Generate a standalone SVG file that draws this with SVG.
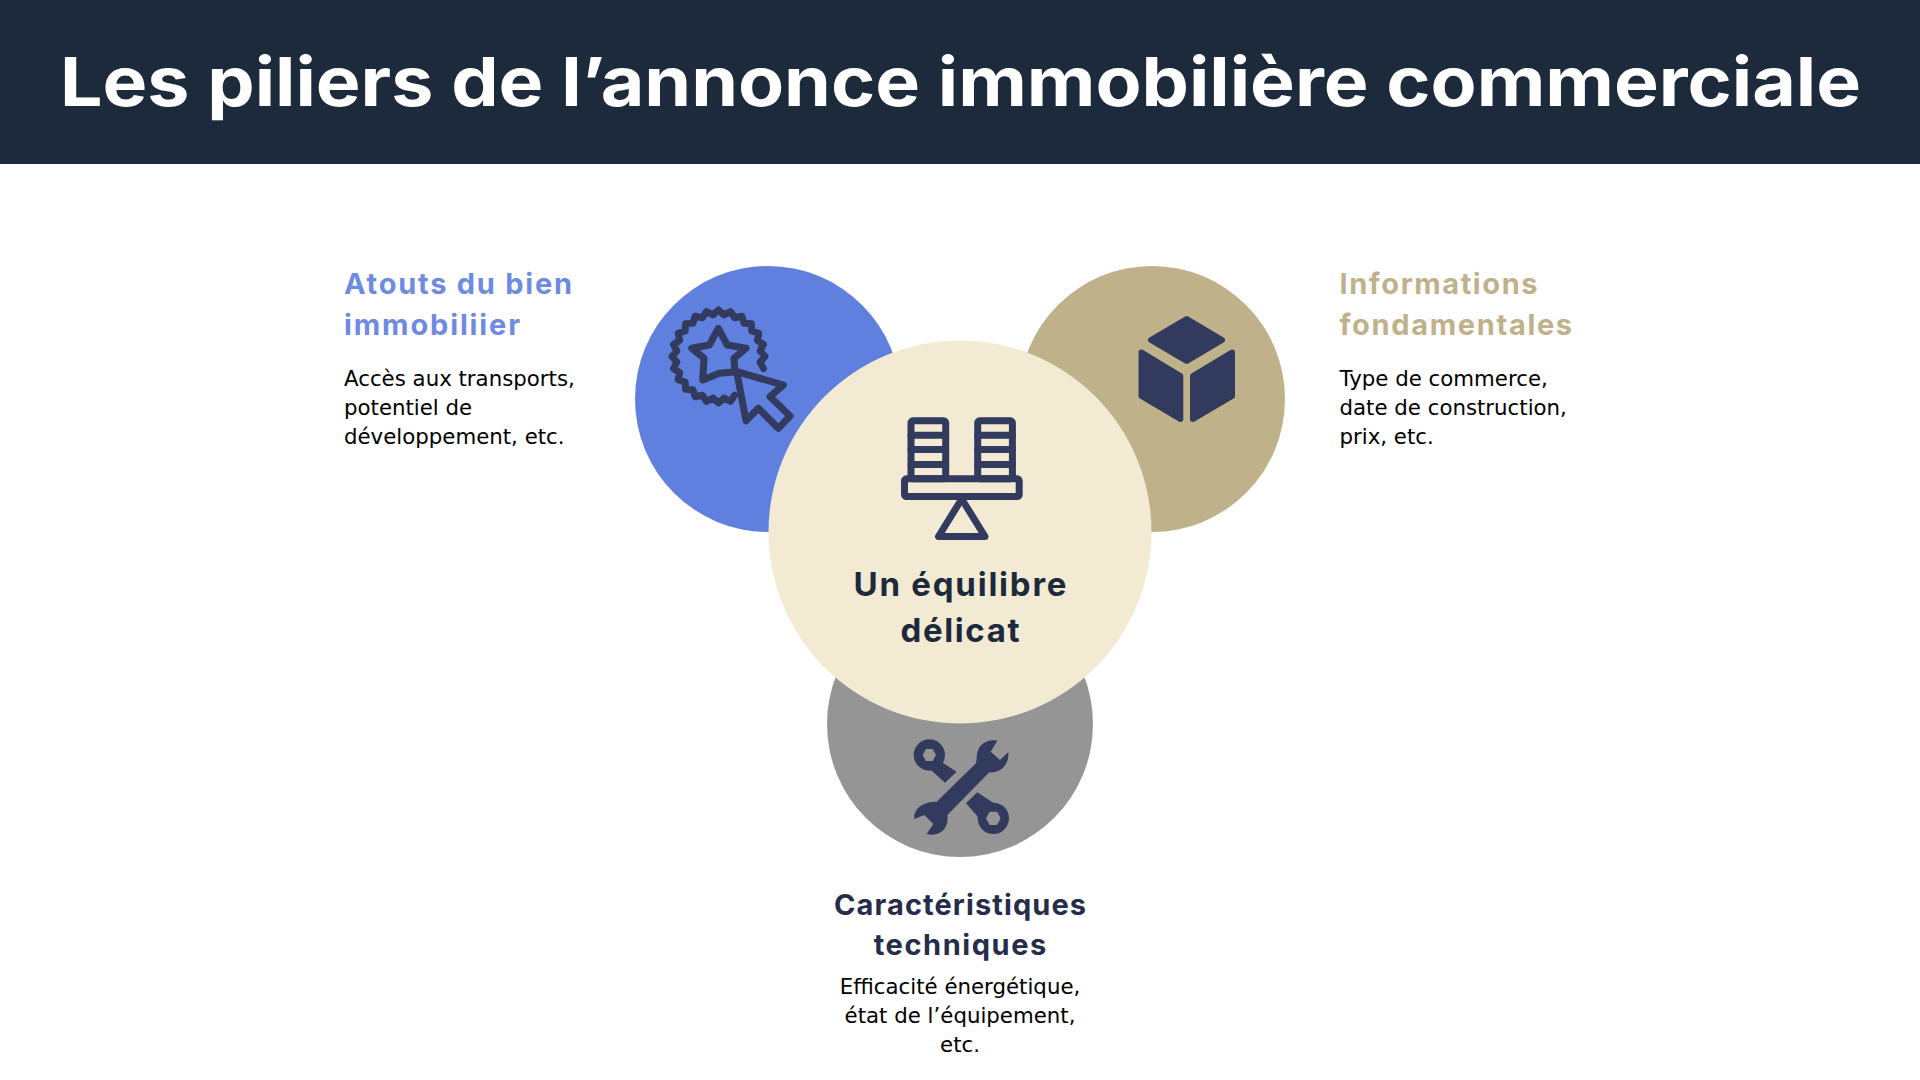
<svg xmlns="http://www.w3.org/2000/svg" width="1920" height="1080" viewBox="0 0 1920 1080">
<style>
.h{font-family:Inter,"Liberation Sans",sans-serif;font-weight:700;font-size:29px;lengthAdjust:spacingAndGlyphs}
.b{font-family:"DejaVu Sans",sans-serif;font-size:21.3px;fill:#000}
.m{text-anchor:middle}
.ic{fill:none;stroke:#323A5E;stroke-width:7;stroke-linejoin:round;stroke-linecap:round}
.f{fill:#323A5E;stroke:#323A5E;stroke-width:6;stroke-linejoin:round}
</style>
<rect id="header" x="0" y="0" width="1920" height="164" fill="#1D2A3C"/>
<text id="title" x="60" y="106" textLength="1801" lengthAdjust="spacingAndGlyphs" font-family="Inter,'Liberation Sans',sans-serif" font-weight="700" font-size="68" fill="#fff">Les piliers de l’annonce immobilière commerciale</text>
<g id="node-atouts">
<circle cx="768" cy="399" r="133" fill="#6080DF"/>
<path class="ic" transform="translate(718.5,356.5)" stroke-width="6" d="M16.07,38.8L12.04,44.92 5.48,41.64 0,46.5 -5.48,41.64 -12.04,44.92 -16.07,38.8 -23.25,40.27 -25.57,33.32 -32.88,32.88 -33.32,25.57 -40.27,23.25 -38.8,16.07 -44.92,12.04 -41.64,5.48 -46.5,0 -41.64,-5.48 -44.92,-12.04 -38.8,-16.07 -40.27,-23.25 -33.32,-25.57 -32.88,-32.88 -25.57,-33.32 -23.25,-40.27 -16.07,-38.8 -12.04,-44.92 -5.48,-41.64 0,-46.5 5.48,-41.64 12.04,-44.92 16.07,-38.8 23.25,-40.27 25.57,-33.32 32.88,-32.88 33.32,-25.57 40.27,-23.25 38.8,-16.07 44.92,-12.04 41.64,-5.48 46.5,0 41.64,5.48 44.92,12.04"/>
<path class="ic" d="M736.7,371.7L719.3,373.3 702.7,380 704,358.3 691.7,348.3 709.3,345 718.3,328.3 727.3,345 746,348.3 734,358.3 735,372"/>
<path class="ic" d="M736.7,371.7L783.3,385 770,396.7 790,416 778.3,428.3 758.3,408.3 746,420.7Z"/>
<text class="h" x="344" y="294" textLength="228" fill="#6F8AE3">Atouts du bien</text>
<text class="h" x="344" y="335" textLength="176" fill="#6F8AE3">immobiliier</text>
<text class="b" x="344" y="385.5">Accès aux transports,</text>
<text class="b" x="344" y="414.5">potentiel de</text>
<text class="b" x="344" y="444">développement, etc.</text>
</g>
<g id="node-infos">
<circle cx="1152" cy="399" r="133" fill="#BFB28A"/>
<path class="f" d="M1186.7,319L1222,340 1186.7,361 1151,340Z"/>
<path class="f" d="M1141.5,352.5L1180.3,376 1180.3,419 1141.5,396Z"/>
<path class="f" d="M1232,352.5L1193,376 1193,419 1232,396Z"/>
<text class="h" x="1339.5" y="294" textLength="198" fill="#BFB28A">Informations</text>
<text class="h" x="1339.5" y="335" textLength="232.6" fill="#BFB28A">fondamentales</text>
<text class="b" x="1339.5" y="385.5">Type de commerce,</text>
<text class="b" x="1339.5" y="414.5">date de construction,</text>
<text class="b" x="1339.5" y="444">prix, etc.</text>
</g>
<g id="node-techniques">
<circle cx="960" cy="724" r="133" fill="#959595"/>
<g transform="translate(890,720) scale(.3333)" fill="#323A5E">
<circle cx="118" cy="105" r="47"/>
<path d="M145,120L200,155 165,188 100,130Z"/>
<path d="M138,105L128,87 108,87 98,105 108,123 128,123Z" fill="#959595"/>
<circle cx="310" cy="295" r="47"/>
<path d="M262,217L228,250 290,320 335,265Z"/>
<path d="M332,295L321,275 299,275 288,295 299,315 321,315Z" fill="#959595"/>
<path d="M322,62C290,55 258,75 260,118L258,130 140,245C100,245 70,265 73,297L103,285 130,312 110,342C150,352 178,325 172,285L298,157C335,160 358,130 355,97L330,120 302,95Z"/>
</g>
<text class="h m" x="960" y="915" textLength="252" fill="#262D4A">Caractéristiques</text>
<text class="h m" x="960" y="955" textLength="172.6" fill="#262D4A">techniques</text>
<text class="b m" x="960" y="994">Efficacité énergétique,</text>
<text class="b m" x="960" y="1023">état de l’équipement,</text>
<text class="b m" x="960" y="1052">etc.</text>
</g>
<g id="node-center">
<circle cx="960" cy="532" r="191.5" fill="#F2EAD3"/>
<g class="ic">
<rect x="911" y="420.8" width="34.7" height="58" rx="2"/>
<rect x="977.7" y="420.8" width="34.7" height="58" rx="2"/>
<path d="M911,435.2H945.7M911,449.6H945.7M911,464.4H945.7M977.7,435.2H1012.4M977.7,449.6H1012.4M977.7,464.4H1012.4"/>
<rect x="904.5" y="478.8" width="114.7" height="17.8" rx="2"/>
<path d="M961.7,499L938.5,536.5H985Z"/>
</g>
<text class="h m" x="960" y="596" textLength="213" font-size="33" fill="#1D2A3C" style="font-size:33px">Un équilibre</text>
<text class="h m" x="960" y="642" textLength="119" fill="#1D2A3C" style="font-size:33px">délicat</text>
</g>
<g id="connectors"/>
</svg>
